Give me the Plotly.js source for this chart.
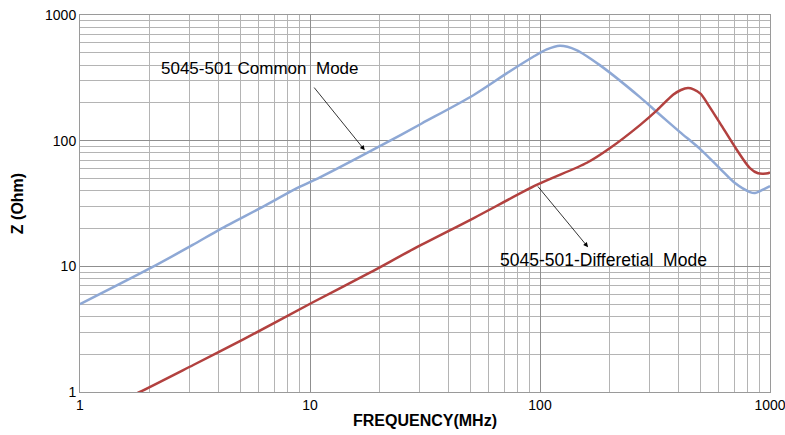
<!DOCTYPE html>
<html>
<head>
<meta charset="utf-8">
<script src="https://cdn.plot.ly/plotly-3.0.1.min.js"></script>
<style>html,body{margin:0;padding:0;background:#fff;}#chart{width:785px;height:435px;}</style>
</head>
<body>
<div id="chart"></div>
<script>
// Common mode impedance (blue)
const cmFreq = [1, 2.05, 3.09, 4.06, 6.17, 9.05, 11.05, 20.5, 30.6, 51.3, 71.6, 93.5, 107, 122, 144, 182, 272, 321, 406, 496, 606, 704, 818, 861, 905, 1000];
const cmZ    = [5.0, 9.8, 14.8, 19.7, 29.5, 43, 51, 92, 137, 230, 343, 465, 532, 569, 526, 399, 222, 170, 117, 86, 60, 46, 39, 38.3, 39.7, 43.5];
// Differential mode impedance (red)
const dmFreq = [1.6, 1.82, 3.11, 5.13, 10.2, 18.2, 28.1, 51.3, 96.7, 160, 201, 272, 323, 379, 410, 440, 465, 500, 540, 606, 719, 818, 887, 980, 1000];
const dmZ    = [0.9, 1.0, 1.64, 2.62, 5.13, 8.9, 13.7, 24.1, 44.4, 66.7, 87, 133, 175, 232, 253, 262, 256, 236, 192, 138, 84, 60.5, 55, 55, 56];

const xTicks = [1, 10, 100, 1000];
const yTicks = [1, 10, 100, 1000];
const xTickText = ['1', '10', '100', '1000'];
const yTickText = ['1', '10', '100', '1000'];

const cmLabel = '5045-501 Common&nbsp; Mode';
const dmLabel = '5045-501-Differetial&nbsp; Mode';

const L = Math.log10;
const FAM = 'Liberation Sans, Arial, sans-serif';
const font = {family: FAM, size: 14, color: '#000'};

const traces = [
  {x: cmFreq, y: cmZ, type: 'scatter', mode: 'lines', line: {color: '#8EA8D5', width: 2.5, shape: 'spline', smoothing: 0.8}, hoverinfo: 'skip'},
  {x: dmFreq, y: dmZ, type: 'scatter', mode: 'lines', line: {color: '#B2413F', width: 2.5, shape: 'spline', smoothing: 0.8}, hoverinfo: 'skip'}
];

const axisCommon = {
  type: 'log',
  showgrid: true, gridcolor: '#8f8f8f', gridwidth: 1,
  minor: {showgrid: true, gridcolor: '#b4b4b4', gridwidth: 1, dtick: 'D1', ticks: ''},
  showline: true, linecolor: '#9a9a9a', linewidth: 1, mirror: true,
  zeroline: false, ticks: '', tickfont: font, ticklabeloverflow: 'allow'
};

const layout = {
  width: 785, height: 435,
  margin: {l: 80, r: 15, t: 15, b: 43},
  paper_bgcolor: '#fff', plot_bgcolor: '#fff',
  showlegend: false,
  font: font,
  xaxis: Object.assign({}, axisCommon, {
    range: [0, 3], tickvals: xTicks, ticktext: xTickText,
    title: {text: '<b>FREQUENCY(MHz)</b>', font: {family: FAM, size: 16, color: '#000'}, standoff: 3}
  }),
  yaxis: Object.assign({}, axisCommon, {
    range: [0, 3], tickvals: yTicks, ticktext: yTickText,
    title: {text: '<b>Z (Ohm)</b>', font: {family: FAM, size: 16, color: '#000'}, standoff: 17}
  }),
  annotations: [
    {xref: 'x', yref: 'y', x: L(6.07), y: L(378), text: cmLabel, showarrow: false, font: {family: FAM, size: 17, color: '#000'}},
    {xref: 'x', yref: 'y', axref: 'x', ayref: 'y', x: L(17.3), y: L(84), ax: L(10.3), ay: L(272), text: '', showarrow: true, arrowhead: 2, arrowsize: 1.2, arrowwidth: 0.8, arrowcolor: '#000'},
    {xref: 'x', yref: 'y', x: L(188), y: L(11.2), text: dmLabel, showarrow: false, font: {family: FAM, size: 17.5, color: '#000'}},
    {xref: 'x', yref: 'y', axref: 'x', ayref: 'y', x: L(161.8), y: L(14.2), ax: L(96.7), ay: L(44.4), text: '', showarrow: true, arrowhead: 2, arrowsize: 1.2, arrowwidth: 0.8, arrowcolor: '#000'}
  ]
};

Plotly.newPlot('chart', traces, layout, {staticPlot: true, displayModeBar: false});
</script>
</body>
</html>
